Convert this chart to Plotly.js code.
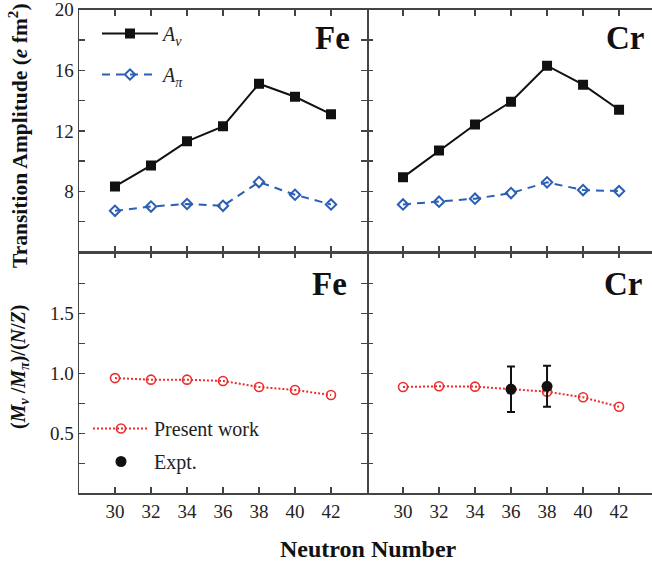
<!DOCTYPE html>
<html>
<head>
<meta charset="utf-8">
<script src="https://cdn.plot.ly/plotly-3.0.1.min.js"></script>
<style>
html,body{margin:0;padding:0;overflow:hidden;background:#fff;}
#chart{width:652px;height:565px;}
</style>
</head>
<body>
<div id="chart"></div>
<script>
// ---- data ----
var neutronNumbers = [30, 32, 34, 36, 38, 40, 42];
var feAnu = [8.33, 9.72, 11.31, 12.3, 15.11, 14.25, 13.1];
var feApi = [6.72, 7.0, 7.17, 7.05, 8.62, 7.78, 7.14];
var crAnu = [8.93, 10.7, 12.42, 13.92, 16.3, 15.05, 13.39];
var crApi = [7.14, 7.32, 7.52, 7.89, 8.6, 8.09, 8.02];
var feRatio = [0.96, 0.947, 0.947, 0.936, 0.886, 0.861, 0.819];
var crRatio = [0.886, 0.892, 0.889, 0.87, 0.847, 0.80, 0.722];
var exptN = [36, 38];
var crExpt = [0.867, 0.892];
var crExptErr = [0.19, 0.17];
var xTicks = [30, 32, 34, 36, 38, 40, 42];
var topTicks = [8, 12, 16, 20];
var botTicks = [0.5, 1.0, 1.5];

var W = 652, H = 565;
var FONT = "Liberation Serif, Times New Roman, serif";
var BLACK = "#111111", BLUE = "#2b5fb5", RED = "#ec2d2d";

function px(x){return x / W;}
function py(y){return (H - y) / H;}

var nuLine = {color: BLACK, width: 2};
var nuMarker = {symbol: "square", size: 10, color: BLACK};
var piLine = {color: BLUE, width: 2, dash: "8px,6px"};
var piMarker = {symbol: "diamond-open", size: 8, color: BLUE, line: {color: BLUE, width: 2}};
var rLine = {color: RED, width: 2, dash: "2px,2px"};
var rMarker = {symbol: "circle-open", size: 9, color: RED, line: {color: RED, width: 1.6}};

var traces = [
  {x: neutronNumbers, y: feAnu, xaxis: "x3", yaxis: "y3", mode: "lines+markers", name: "<i>A</i><sub><i>ν</i></sub>",
   line: nuLine, marker: nuMarker, legend: "legend", legendgroup: "a"},
  {x: neutronNumbers, y: feApi, xaxis: "x3", yaxis: "y3", mode: "lines+markers", name: "<i>A</i><sub><i>π</i></sub>",
   line: piLine, marker: piMarker, legend: "legend", legendgroup: "b"},
  {x: neutronNumbers, y: crAnu, xaxis: "x4", yaxis: "y4", mode: "lines+markers", showlegend: false,
   line: nuLine, marker: nuMarker},
  {x: neutronNumbers, y: crApi, xaxis: "x4", yaxis: "y4", mode: "lines+markers", showlegend: false,
   line: piLine, marker: piMarker},
  {x: neutronNumbers, y: feRatio, xaxis: "x", yaxis: "y", mode: "lines+markers", name: "Present work",
   line: rLine, marker: rMarker, legend: "legend2", legendgroup: "c"},
  {x: neutronNumbers, y: crRatio, xaxis: "x2", yaxis: "y2", mode: "lines+markers", showlegend: false,
   line: rLine, marker: rMarker},
  {x: exptN, y: crExpt, xaxis: "x2", yaxis: "y2", mode: "markers", name: "Expt.",
   marker: {symbol: "circle", size: 11, color: BLACK},
   error_y: {type: "data", array: crExptErr, visible: true, color: BLACK, thickness: 2, width: 4},
   legend: "legend2", legendgroup: "d"}
];

var axisCommon = {
  showline: true, linecolor: "#444", linewidth: 1.5, mirror: "ticks",
  ticks: "inside", ticklen: 6, tickwidth: 1.3, tickcolor: "#444",
  showgrid: false, zeroline: false, fixedrange: true, ticklabeloverflow: "allow",
  tickfont: {family: FONT, size: 19, color: "#222"}
};
function ax(extra){ return Object.assign({}, axisCommon, extra); }

var xL = [px(79), px(367)], xR = [px(367), 1];
var yT = [py(252), py(9.7)], yB = [py(493.4), py(252)];

var xTickText = xTicks.map(String);
var minorTop = {tickvals: [6, 10, 14, 18], ticks: "inside", ticklen: 6, tickwidth: 1.3, tickcolor: "#444"};
var minorBot = {tickvals: [0.25, 0.75, 1.25, 1.75], ticks: "inside", ticklen: 6, tickwidth: 1.3, tickcolor: "#444"};

var layout = {
  width: W, height: H,
  margin: {l: 0, r: 0, t: 0, b: 0},
  paper_bgcolor: "#fff", plot_bgcolor: "#fff",
  font: {family: FONT, color: "#222"},
  xaxis: ax({range: [28, 44], tickvals: xTicks, ticktext: xTickText, domain: xL, anchor: "y"}),
  xaxis2: ax({range: [28, 43.83], tickvals: xTicks, ticktext: xTickText, domain: xR, anchor: "y2"}),
  xaxis3: ax({range: [28, 44], tickvals: xTicks, domain: xL, anchor: "y3", showticklabels: false}),
  xaxis4: ax({range: [28, 43.83], tickvals: xTicks, domain: xR, anchor: "y4", showticklabels: false}),
  yaxis: ax({domain: yB, anchor: "x", range: [0, 2.01], tickvals: botTicks, ticktext: ["0.5", "1.0", "1.5"], minor: minorBot}),
  yaxis2: ax({domain: yB, anchor: "x2", range: [0, 2.01], tickvals: botTicks, showticklabels: false, minor: minorBot, mirror: false, showline: false}),
  yaxis3: ax({domain: yT, anchor: "x3", range: [4, 20], tickvals: topTicks, ticktext: topTicks.map(String), minor: minorTop}),
  yaxis4: ax({domain: yT, anchor: "x4", range: [4, 20], tickvals: topTicks, showticklabels: false, minor: minorTop, mirror: false, showline: false}),
  legend: {x: px(97), y: py(14), xanchor: "left", yanchor: "top", bgcolor: "rgba(0,0,0,0)",
    font: {family: FONT, size: 20, color: "#222"}, itemwidth: 56, tracegroupgap: 12, traceorder: "grouped"},
  legend2: {x: px(88), y: py(409), xanchor: "left", yanchor: "top", bgcolor: "rgba(0,0,0,0)",
    font: {family: FONT, size: 20, color: "#222"}, itemwidth: 56, tracegroupgap: 4, traceorder: "grouped"},
  annotations: [
    {text: "<b>Fe</b>", x: px(352), y: py(38), xref: "paper", yref: "paper", xanchor: "right", yanchor: "middle",
     showarrow: false, font: {family: FONT, size: 33, color: "#111"}},
    {text: "<b>Cr</b>", x: px(646), y: py(38), xref: "paper", yref: "paper", xanchor: "right", yanchor: "middle",
     showarrow: false, font: {family: FONT, size: 33, color: "#111"}},
    {text: "<b>Fe</b>", x: px(349), y: py(284), xref: "paper", yref: "paper", xanchor: "right", yanchor: "middle",
     showarrow: false, font: {family: FONT, size: 33, color: "#111"}},
    {text: "<b>Cr</b>", x: px(644), y: py(284), xref: "paper", yref: "paper", xanchor: "right", yanchor: "middle",
     showarrow: false, font: {family: FONT, size: 33, color: "#111"}},
    {text: "<b>Transition Amplitude (<i>e</i> fm<sup>2</sup>)</b>", x: px(18), y: py(136), xref: "paper", yref: "paper",
     xanchor: "center", yanchor: "middle", textangle: -90, showarrow: false, font: {family: FONT, size: 21.5, color: "#111"}},
    {text: "<b>(<i>M</i><sub><i>ν</i></sub> /<i>M</i><sub><i>π</i></sub>)/(<i>N</i>/<i>Z</i>)</b>", x: px(19), y: py(367), xref: "paper", yref: "paper",
     xanchor: "center", yanchor: "middle", textangle: -90, showarrow: false, font: {family: FONT, size: 20, color: "#111"}},
    {text: "<b>Neutron Number</b>", x: px(368), y: py(549), xref: "paper", yref: "paper",
     xanchor: "center", yanchor: "middle", showarrow: false, font: {family: FONT, size: 24, color: "#111"}}
  ]
};

Plotly.newPlot("chart", traces, layout, {displayModeBar: false, staticPlot: true});
</script>
</body>
</html>
